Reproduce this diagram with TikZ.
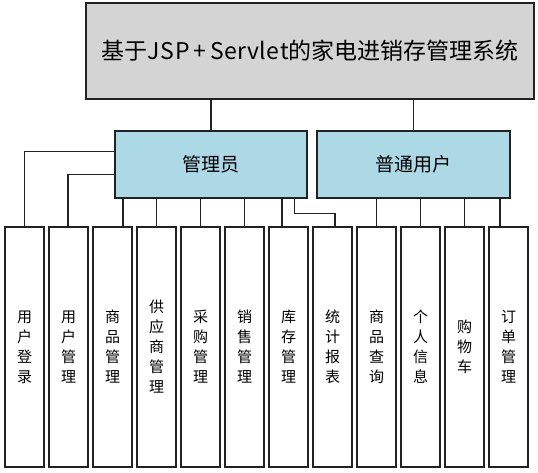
\documentclass[tikz,border=0pt]{standalone}
\usepackage{fontspec}
\setmainfont{Noto Sans CJK SC}
\definecolor{topgray}{HTML}{D4D4D4}
\definecolor{roleblue}{HTML}{ADD8E6}
\definecolor{edge}{HTML}{222222}
\tikzset{
  frame/.style={draw=edge, line width=1.1pt, inner sep=0pt, align=center},
  titlebox/.style={frame, fill=topgray, minimum width=448pt, minimum height=96pt, font=\fontsize{23}{26}\selectfont},
  rolebox/.style={frame, fill=roleblue, minimum height=67pt, font=\fontsize{19}{22}\selectfont},
  funcbox/.style={frame, fill=white, minimum width=39pt, minimum height=240pt, font=\fontsize{15}{20}\selectfont},
  wire/.style={draw=edge, line width=1.1pt}
}
\begin{document}
\begin{tikzpicture}[x=1pt, y=-1pt]
\useasboundingbox (0,0) rectangle (538,473);
\node[titlebox] (top) at (310,51) {基于J\kern1pt S\kern1pt P\kern4pt+\kern4pt S\kern0.5pt e\kern0.5pt r\kern0.5pt v\kern0.5pt l\kern0.5pt e\kern0.5pt t的家电进销存管理系统};
\node[rolebox, minimum width=192pt] (admin) at (211,164.5) {管理员};
\node[rolebox, minimum width=193pt] (user) at (413.5,164.5) {普通用户};

\node[funcbox] (b1) at (24.5,347) {用\\户\\登\\录};
\node[funcbox] (b2) at (68.5,347) {用\\户\\管\\理};
\node[funcbox] (b3) at (112.5,347) {商\\品\\管\\理};
\node[funcbox] (b4) at (156.5,347) {供\\应\\商\\管\\理};
\node[funcbox] (b5) at (200.5,347) {采\\购\\管\\理};
\node[funcbox] (b6) at (244.5,347) {销\\售\\管\\理};
\node[funcbox] (b7) at (288.5,347) {库\\存\\管\\理};
\node[funcbox] (b8) at (332.5,347) {统\\计\\报\\表};
\node[funcbox] (b9) at (376.5,347) {商\\品\\查\\询};
\node[funcbox] (b10) at (420.5,347) {个\\人\\信\\息};
\node[funcbox] (b11) at (464.5,347) {购\\物\\车};
\node[funcbox] (b12) at (508.5,347) {订\\单\\管\\理};

\draw[wire] (admin.north) -- (admin.north |- top.south);
\draw[wire] (user.north) -- (user.north |- top.south);

\draw[wire] ([yshift=-21pt]admin.north west) -| (b1.north);
\draw[wire] ([yshift=-44pt]admin.north west) -| ([xshift=-0.5pt]b2.north);
\draw[wire] ([xshift=10.5pt]b3.north) -- ([xshift=10.5pt]b3.north |- admin.south);
\draw[wire] (b4.north) -- (b4.north |- admin.south);
\draw[wire] (b5.north) -- (b5.north |- admin.south);
\draw[wire] (b6.north) -- (b6.north |- admin.south);
\draw[wire] ([xshift=-6.5pt]b7.north) -- ([xshift=-6.5pt]b7.north |- admin.south);
\draw[wire] ([xshift=-13pt]admin.south east) -- ++(0,-15pt) -| ([xshift=2.5pt]b8.north);

\draw[wire] (b9.north) -- (b9.north |- user.south);
\draw[wire] (b10.north) -- (b10.north |- user.south);
\draw[wire] (b11.north) -- (b11.north |- user.south);
\draw[wire] ([xshift=-8.5pt]b12.north) -- ([xshift=-8.5pt]b12.north |- user.south);
\end{tikzpicture}
\end{document}
